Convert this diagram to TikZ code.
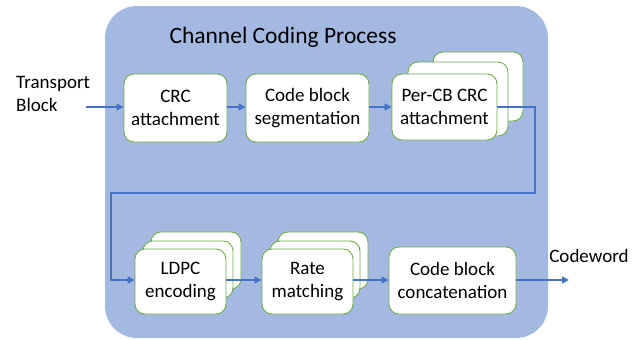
\documentclass[tikz,border=0pt]{standalone}
\usepackage{fontspec}
\setmainfont{Carlito}
\usetikzlibrary{arrows.meta}
\definecolor{panelblue}{HTML}{A3B9E1}
\definecolor{flowblue}{HTML}{4472C4}
\definecolor{boxgreen}{HTML}{70AD47}
\tikzset{
  proc/.style={draw=boxgreen, line width=0.9pt, fill=white, rounded corners=10pt,
    align=center, font=\fontsize{19}{23}\selectfont, inner sep=0pt},
  copybox/.style={draw=boxgreen, line width=0.9pt, fill=white, rounded corners=10pt},
  flow/.style={draw=flowblue, line width=1.4pt, -{Triangle[length=7pt,width=7pt]}},
  lbl/.style={font=\fontsize{19}{23}\selectfont, inner sep=0pt}
}
\begin{document}
\begin{tikzpicture}[x=1pt,y=-1pt]
\useasboundingbox (0,0) rectangle (641,340);
% process panel
\fill[panelblue, rounded corners=32pt] (105,6) rectangle (548,338);
\node[font=\fontsize{23.5}{28}\selectfont, inner sep=0pt] (title) at (283,37) {Channel Coding Process};

% first row
\node[proc, minimum width=103pt, minimum height=68pt] (crc) at (175.5,108) {CRC\\attachment};
\node[proc, minimum width=123pt, minimum height=68pt] (seg) at (307.5,108) {Code block\\segmentation};
\node[copybox, minimum width=90pt, minimum height=69pt] (percbC) at (478,86.5) {};
\node[copybox, minimum width=100pt, minimum height=74pt] (percbB) at (458,99) {};
\node[proc, minimum width=105pt, minimum height=66pt] (percb) at (444.5,107) {Per-CB CRC\\attachment};

% second row
\node[copybox, minimum width=90pt, minimum height=57pt] (ldpcC) at (196,260.5) {};
\node[copybox, minimum width=90pt, minimum height=57pt] (ldpcB) at (188,269.5) {};
\node[proc, minimum width=91pt, minimum height=65pt] (ldpc) at (180.5,281.5) {LDPC\\encoding};
\node[copybox, minimum width=90pt, minimum height=57pt] (rateC) at (323,260.5) {};
\node[copybox, minimum width=90pt, minimum height=57pt] (rateB) at (315,269.5) {};
\node[proc, minimum width=91pt, minimum height=65pt] (rate) at (307.5,281.5) {Rate\\matching};
\node[proc, minimum width=127pt, minimum height=67pt] (concat) at (452.5,280.5) {Code block\\concatenation};

% external labels
\node[lbl, align=left, anchor=west] (tb) at (16,93.5) {Transport\\Block};
\node[lbl] (cw) at (589,256) {Codeword};
\coordinate (row1) at (0,107);
\coordinate (row2) at (0,280);
\coordinate (tbEnd) at (86,107);
\coordinate (cwEnd) at (569,280);
\coordinate (turnR) at (535,193);
\coordinate (turnL) at (111,193);

% data flow
\draw[flow] (tbEnd) -- (crc.west |- row1);
\draw[flow] (crc.east |- row1) -- (seg.west |- row1);
\draw[flow] (seg.east |- row1) -- (percb.west |- row1);
\draw[flow] (percb.east |- row1) -| (turnR) -- (turnL) |- (ldpc.west |- row2);
\draw[flow] (ldpc.east |- row2) -- (rate.west |- row2);
\draw[flow] (rate.east |- row2) -- (concat.west |- row2);
\draw[flow] (concat.east |- row2) -- (cwEnd);
\end{tikzpicture}
\end{document}
